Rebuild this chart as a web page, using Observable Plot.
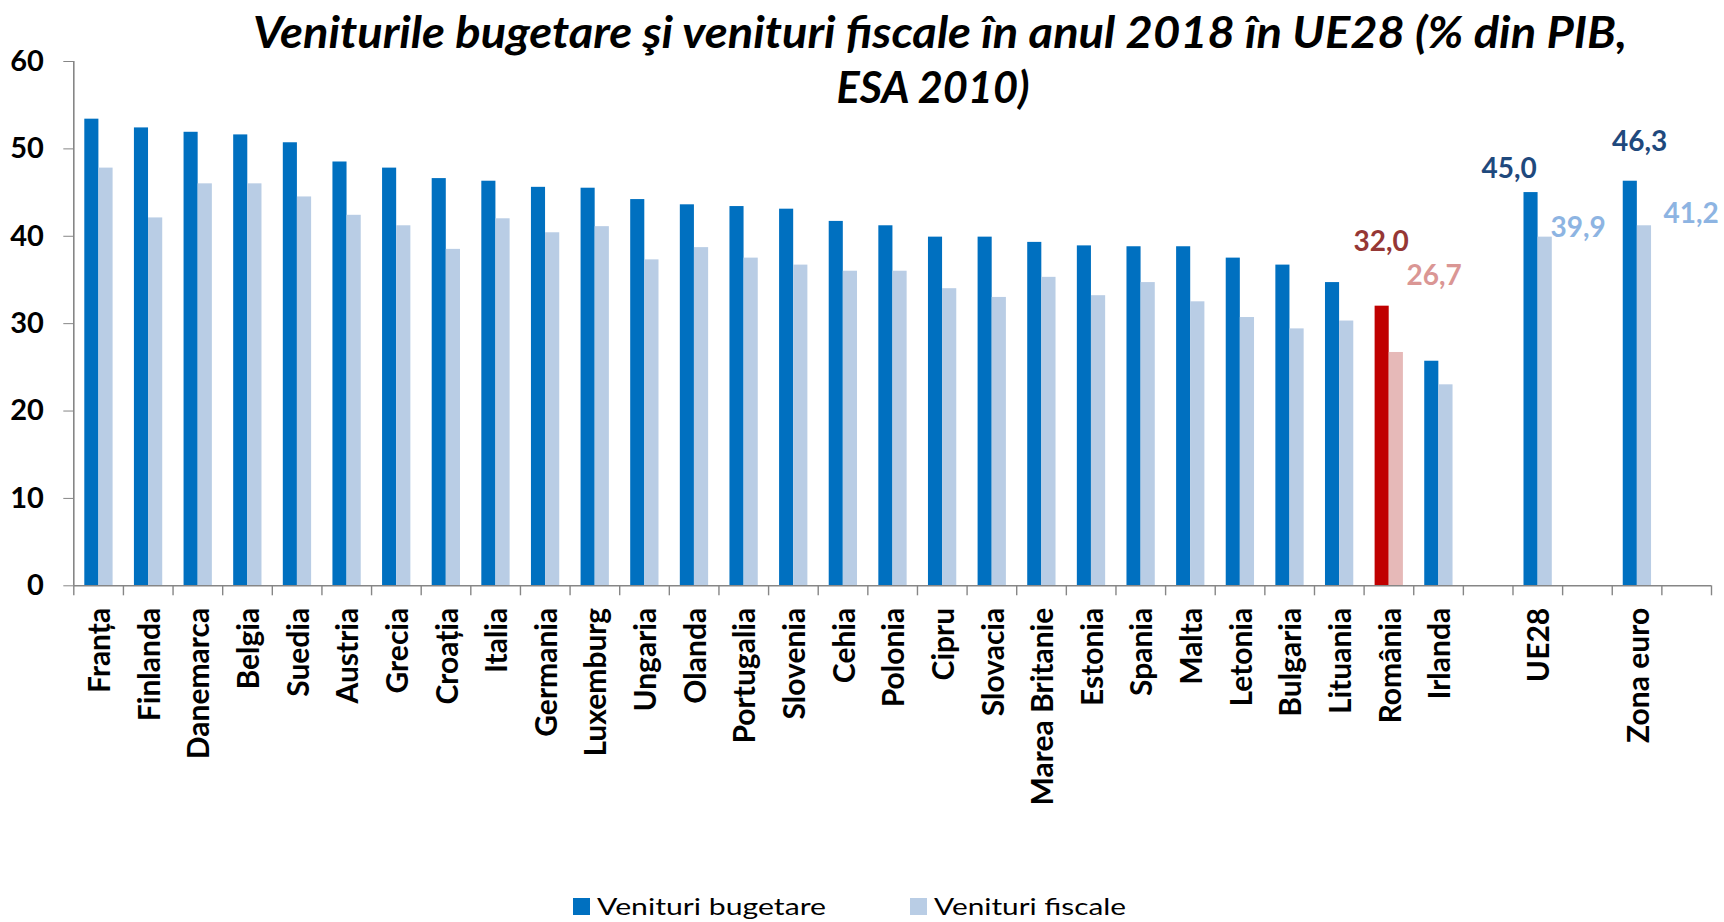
<!DOCTYPE html>
<html>
<head>
<meta charset="utf-8">
<script src="https://cdn.jsdelivr.net/npm/d3@7"></script>
<script src="https://cdn.jsdelivr.net/npm/@observablehq/plot@0.6"></script>
<style>
  html, body { margin: 0; padding: 0; background: #fff; }
  #wrap { position: relative; width: 1724px; height: 922px; overflow: hidden; font-family: Lato, "Open Sans", sans-serif; }
  #wrap svg { position: absolute; left: 0; top: 0; }
</style>
</head>
<body>
<div id="wrap"></div>
<script>
// ---------- data ----------
const categories = ["Franța","Finlanda","Danemarca","Belgia","Suedia","Austria","Grecia","Croația","Italia","Germania",
  "Luxemburg","Ungaria","Olanda","Portugalia","Slovenia","Cehia","Polonia","Cipru","Slovacia","Marea Britanie",
  "Estonia","Spania","Malta","Letonia","Bulgaria","Lituania","România","Irlanda","UE28","Zona euro"];
const venituriBugetare = [53.4,52.4,51.9,51.6,50.7,48.5,47.8,46.6,46.3,45.6,
  45.5,44.2,43.6,43.4,43.1,41.7,41.2,39.9,39.9,39.3,
  38.9,38.8,38.8,37.5,36.7,34.7,32.0,25.7,45.0,46.3];
const venituriFiscale = [47.8,42.1,46.0,46.0,44.5,42.4,41.2,38.5,42.0,40.4,
  41.1,37.3,38.7,37.5,36.7,36.0,36.0,34.0,33.0,35.3,
  33.2,34.7,32.5,30.7,29.4,30.3,26.7,23.0,39.9,41.2];
// axis order, with the empty slots of the original chart
const axisOrder = [...categories.slice(0, 28), " ", "UE28", "  ", "Zona euro", "   "];
const yTicks = [0, 10, 20, 30, 40, 50, 60];
const seriesNames = ["Venituri bugetare", "Venituri fiscale"];
const titleLines = ["Veniturile bugetare şi venituri fiscale în anul 2018 în UE28 (% din PIB,", "ESA 2010)"];

// ---------- styles ----------
const C = {
  dark: "#0070C0", light: "#B9CDE5",
  roDark: "#C00000", roLight: "#E6B9B8",
  axis: "#868686",
  lblNavy: "#1F497D", lblSky: "#8DB4E2", lblRed: "#953735", lblPink: "#DA9694"
};

const rows = categories.flatMap((c, i) => [
  {country: c, series: seriesNames[0], value: venituriBugetare[i]},
  {country: c, series: seriesNames[1], value: venituriFiscale[i]}
]);
const fillFor = d => d.country === "România"
  ? (d.series === seriesNames[0] ? C.roDark : C.roLight)
  : (d.series === seriesNames[0] ? C.dark : C.light);
const fmt = v => d3.format(".1f")(v).replace(".", ",");

const W = 1724, H = 922, ML = 73.3, MR = 13, MT = 61, MB = H - 585.3;
const bw = (W - ML - MR) / axisOrder.length;

const s0 = rows.filter(d => d.series === seriesNames[0]);
const s1 = rows.filter(d => d.series === seriesNames[1]);
const pick = (arr, c) => arr.filter(d => d.country === c);
const lbl = {fontSize: 28, fontWeight: "bold", x: "country", y: "value", text: d => fmt(d.value)};

const chart = Plot.plot({
  width: W, height: H,
  marginLeft: ML, marginRight: MR, marginTop: MT, marginBottom: MB,
  style: {fontFamily: "Lato, 'Open Sans', sans-serif", background: "transparent", overflow: "visible"},
  x: {domain: axisOrder, padding: 0, round: false},
  y: {domain: [yTicks[0], yTicks[yTicks.length - 1]]},
  marks: [
    Plot.barY(s0, {x: "country", y: "value", fill: fillFor, insetLeft: 11, insetRight: bw - 25.1}),
    Plot.barY(s1, {x: "country", y: "value", fill: fillFor, insetLeft: 25.1, insetRight: bw - 39.3}),
    Plot.ruleY([yTicks[0]], {stroke: C.axis, strokeWidth: 1.6}),
    Plot.ruleX([axisOrder[0]], {x: d => d, y1: yTicks[0], y2: yTicks[yTicks.length - 1], dx: -bw / 2, stroke: C.axis, strokeWidth: 1.6}),
    Plot.axisY({ticks: yTicks, tickSize: 10, tickPadding: 20, stroke: C.axis, fill: "#000", fontSize: 29, fontWeight: "bold", label: null}),
    Plot.axisX({tickSize: 10, tickFormat: () => "", dx: -bw / 2, stroke: C.axis, strokeWidth: 1.4, label: null}),
    Plot.axisX({ticks: [axisOrder[axisOrder.length - 1]], tickSize: 10, tickFormat: () => "", dx: bw / 2, stroke: C.axis, strokeWidth: 1.4, label: null}),
    Plot.axisX({tickSize: 0, tickPadding: 22, tickRotate: -90, fontSize: 30, fontWeight: "bold", fill: "#000",
      tickFormat: d => d.trim(), label: null, dx: 2}),
    Plot.text(pick(s0, "România"), {...lbl, dx: -7.7, dy: -64, fill: C.lblRed}),
    Plot.text(pick(s1, "România"), {...lbl, dx: 45.3, dy: -76, fill: C.lblPink}),
    Plot.text(pick(s0, "UE28"), {...lbl, dx: -28.7, dy: -24, fill: C.lblNavy}),
    Plot.text(pick(s1, "UE28"), {...lbl, dx: 40.3, dy: -9, fill: C.lblSky}),
    Plot.text(pick(s0, "Zona euro"), {...lbl, dx: 2.6, dy: -39, fill: C.lblNavy}),
    Plot.text(pick(s1, "Zona euro"), {...lbl, dx: 54, dy: -12, fill: C.lblSky})
  ]
});
const wrap = document.getElementById("wrap");
wrap.appendChild(chart);

// ---------- title & legend overlay ----------
const ov = d3.select(wrap).append("svg")
  .attr("width", W).attr("height", H)
  .style("font-family", "Lato, 'Open Sans', sans-serif")
  .style("pointer-events", "none");

ov.append("text").text(titleLines[0])
  .attr("x", 940).attr("y", 48)
  .attr("text-anchor", "middle")
  .attr("font-size", 43).attr("font-weight", "bold").attr("font-style", "italic")
  .attr("textLength", 1374).attr("lengthAdjust", "spacingAndGlyphs");
ov.append("text").text(titleLines[1])
  .attr("x", 933).attr("y", 103)
  .attr("text-anchor", "middle")
  .attr("font-size", 43).attr("font-weight", "bold").attr("font-style", "italic")
  .attr("textLength", 193).attr("lengthAdjust", "spacingAndGlyphs");

const legendItems = [
  {name: seriesNames[0], color: C.dark, sx: 573, tx: 597, tl: 229},
  {name: seriesNames[1], color: C.light, sx: 910, tx: 934, tl: 192}
];
legendItems.forEach(it => {
  ov.append("rect").attr("x", it.sx).attr("y", 898).attr("width", 17).attr("height", 17).attr("fill", it.color);
  ov.append("text").text(it.name).attr("x", it.tx).attr("y", 915)
    .attr("font-size", 24).attr("fill", "#000")
    .attr("textLength", it.tl).attr("lengthAdjust", "spacingAndGlyphs");
});
</script>
</body>
</html>
